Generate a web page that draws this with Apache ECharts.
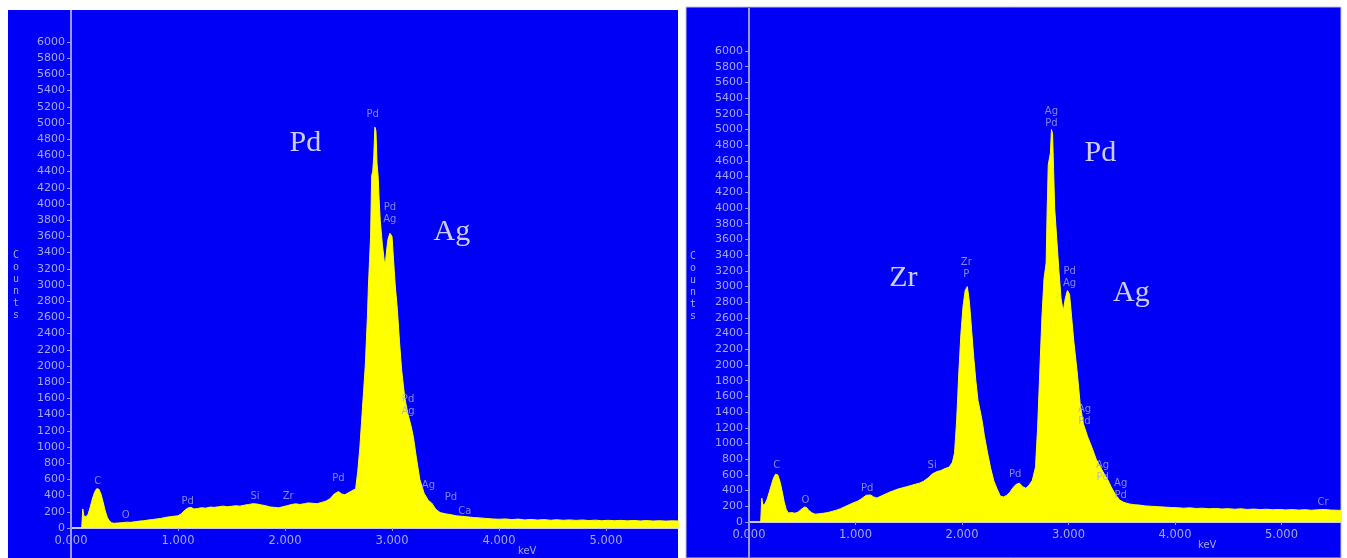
<!DOCTYPE html>
<html>
<head>
<meta charset="utf-8">
<script src="https://cdn.jsdelivr.net/npm/echarts@6/dist/echarts.min.js"></script>
<style>
  html, body { margin: 0; padding: 0; background: #ffffff; }
  #main { width: 1347px; height: 558px; }
</style>
</head>
<body>
<div id="main"></div>
<script>
// EDS spectra, [keV, counts]
var leftSpectrum = [
  [0.10, 0], [0.11, 235], [0.12, 150], [0.14, 140], [0.16, 170], [0.18, 260], [0.20, 360], [0.22, 440],
  [0.24, 485], [0.25, 490], [0.26, 480], [0.28, 420], [0.30, 320], [0.32, 210], [0.34, 130], [0.36, 85],
  [0.38, 65], [0.40, 58], [0.44, 62], [0.48, 66], [0.52, 72], [0.56, 70], [0.60, 78], [0.64, 85],
  [0.68, 90], [0.72, 98], [0.76, 104], [0.80, 112], [0.84, 118], [0.88, 130], [0.92, 138], [0.96, 145],
  [1.00, 150], [1.03, 175], [1.06, 215], [1.09, 245], [1.12, 255], [1.15, 235], [1.18, 240], [1.22, 250],
  [1.26, 245], [1.30, 258], [1.34, 255], [1.38, 262], [1.42, 270], [1.46, 262], [1.50, 268], [1.54, 275],
  [1.58, 270], [1.62, 282], [1.66, 290], [1.70, 300], [1.74, 295], [1.78, 285], [1.82, 275], [1.86, 260],
  [1.90, 255], [1.94, 250], [1.98, 262], [2.02, 275], [2.06, 290], [2.10, 298], [2.14, 290], [2.18, 300],
  [2.22, 310], [2.26, 305], [2.30, 300], [2.34, 315], [2.38, 330], [2.42, 360], [2.46, 420], [2.50, 450],
  [2.53, 420], [2.56, 410], [2.60, 440], [2.64, 470], [2.66, 480], [2.68, 700], [2.70, 1000], [2.72, 1400],
  [2.74, 1800], [2.75, 2000], [2.77, 2600], [2.78, 3000], [2.79, 3300], [2.80, 3600], [2.81, 4350], [2.82, 4400],
  [2.83, 4600], [2.84, 4950], [2.85, 4900], [2.86, 4500], [2.87, 4350], [2.88, 4050], [2.89, 3800], [2.91, 3500],
  [2.93, 3270], [2.94, 3300], [2.96, 3550], [2.98, 3640], [3.00, 3600], [3.02, 3200], [3.03, 3000], [3.05, 2700],
  [3.07, 2300], [3.09, 1950], [3.12, 1600], [3.15, 1400], [3.18, 1250], [3.20, 1120], [3.23, 850], [3.26, 600],
  [3.30, 430], [3.34, 340], [3.37, 310], [3.41, 230], [3.45, 190], [3.50, 175], [3.55, 165], [3.60, 150],
  [3.65, 145], [3.70, 138], [3.76, 130], [3.82, 125], [3.88, 118], [3.94, 112], [4.00, 108], [4.06, 112],
  [4.12, 104], [4.18, 110], [4.24, 100], [4.30, 106], [4.36, 98], [4.42, 104], [4.48, 96], [4.54, 102],
  [4.60, 95], [4.66, 100], [4.72, 94], [4.78, 99], [4.84, 92], [4.90, 97], [4.96, 90], [5.02, 95],
  [5.08, 90], [5.14, 94], [5.20, 88], [5.26, 93], [5.32, 87], [5.38, 92], [5.44, 86], [5.50, 90],
  [5.56, 85], [5.62, 89], [5.68, 86]
];

var rightSpectrum = [
  [0.11, 0], [0.12, 305], [0.13, 215], [0.15, 230], [0.17, 290], [0.19, 380], [0.21, 470], [0.23, 560],
  [0.25, 610], [0.26, 625], [0.27, 600], [0.29, 520], [0.31, 400], [0.33, 260], [0.35, 160], [0.37, 115],
  [0.40, 120], [0.43, 112], [0.46, 125], [0.49, 160], [0.52, 190], [0.54, 185], [0.56, 150], [0.59, 118],
  [0.62, 100], [0.66, 105], [0.70, 112], [0.74, 120], [0.78, 135], [0.82, 150], [0.86, 170], [0.90, 195],
  [0.94, 220], [0.98, 245], [1.02, 265], [1.06, 300], [1.10, 340], [1.14, 345], [1.17, 320], [1.20, 305],
  [1.24, 330], [1.28, 355], [1.32, 380], [1.36, 400], [1.40, 420], [1.44, 435], [1.48, 450], [1.52, 465],
  [1.56, 480], [1.60, 495], [1.64, 520], [1.68, 560], [1.72, 610], [1.76, 640], [1.80, 655], [1.84, 680],
  [1.88, 700], [1.91, 760], [1.93, 880], [1.95, 1300], [1.97, 1900], [1.99, 2400], [2.01, 2750], [2.03, 2950],
  [2.05, 3000], [2.07, 2800], [2.09, 2450], [2.11, 2100], [2.13, 1800], [2.15, 1550], [2.17, 1420], [2.19, 1280],
  [2.21, 1100], [2.24, 880], [2.27, 680], [2.30, 520], [2.33, 420], [2.36, 330], [2.39, 320], [2.42, 340],
  [2.45, 380], [2.48, 440], [2.51, 480], [2.54, 495], [2.57, 450], [2.60, 430], [2.63, 470], [2.66, 530],
  [2.69, 700], [2.71, 1200], [2.73, 1900], [2.75, 2600], [2.77, 3100], [2.79, 3300], [2.80, 4000], [2.81, 4550],
  [2.83, 4700], [2.84, 5000], [2.85, 4950], [2.86, 4500], [2.87, 4000], [2.89, 3600], [2.91, 3200], [2.93, 2850],
  [2.95, 2680], [2.97, 2850], [2.99, 2950], [3.01, 2900], [3.03, 2600], [3.05, 2300], [3.08, 1930], [3.11, 1500],
  [3.14, 1250], [3.18, 1085], [3.22, 950], [3.26, 800], [3.30, 700], [3.34, 600], [3.37, 535], [3.40, 450],
  [3.44, 350], [3.48, 280], [3.52, 250], [3.57, 230], [3.62, 220], [3.67, 215], [3.72, 205], [3.78, 200],
  [3.84, 195], [3.90, 190], [3.96, 185], [4.02, 182], [4.08, 176], [4.14, 180], [4.20, 172], [4.26, 176],
  [4.32, 168], [4.38, 173], [4.44, 166], [4.50, 170], [4.56, 163], [4.62, 168], [4.68, 160], [4.74, 165],
  [4.80, 158], [4.86, 163], [4.92, 156], [4.98, 160], [5.04, 154], [5.10, 158], [5.16, 152], [5.22, 157],
  [5.28, 150], [5.34, 155], [5.40, 160], [5.46, 152], [5.52, 150], [5.56, 148]
];

// peak markers written on the spectra: [text, keV, counts]
var leftMarks = [
  ['C', 0.25, 580], ['O', 0.51, 150], ['Pd', 1.09, 333], ['Si', 1.72, 395], ['Zr', 2.03, 395],
  ['Pd', 2.50, 617], ['Pd', 2.82, 5100], ['Pd\nAg', 2.98, 3880], ['Pd\nAg', 3.15, 1510],
  ['Ag', 3.34, 530], ['Pd', 3.55, 380], ['Ca', 3.68, 210]
];
var rightMarks = [
  ['C', 0.26, 725], ['O', 0.53, 280], ['Pd', 1.11, 430], ['Si', 1.72, 725], ['Zr\nP', 2.04, 3230],
  ['Pd', 2.50, 600], ['Ag\nPd', 2.84, 5150], ['Pd\nAg', 3.01, 3110], ['Ag\nPd', 3.15, 1360],
  ['Ag\nPd', 3.32, 640], ['Ag\nPd', 3.49, 410], ['Cr', 5.39, 250]
];

// big element names: [text, keV, counts]
var leftNames = [['Pd', 2.19, 4750], ['Ag', 3.56, 3650]];
var rightNames = [['Zr', 1.45, 3110], ['Pd', 3.30, 4700], ['Ag', 3.59, 2920]];

var yTicks = { min: 0, max: 6000, interval: 200 };
var xTicks = { min: 0, interval: 1 };

var blue = '#0000f6';
var yellow = '#ffff00';
var tickColor = '#a4a8f4';
var lineColor = '#9a9ad8';

function xAxisOf(idx, max) {
  return {
    type: 'value', gridIndex: idx, min: xTicks.min, max: max, interval: xTicks.interval,
    axisLine: { show: true, lineStyle: { color: '#c8c8f0', width: 2 } },
    axisTick: { show: true, length: 3, lineStyle: { color: lineColor } },
    axisLabel: { color: tickColor, fontSize: 11.5, fontFamily: 'DejaVu Sans', margin: 7,
      showMaxLabel: false, formatter: function (v) { return v.toFixed(3); } },
    splitLine: { show: false }
  };
}
function yAxisOf(idx, gap) {
  return {
    type: 'value', gridIndex: idx, min: yTicks.min, max: yTicks.max, interval: yTicks.interval,
    name: 'C\no\nu\nn\nt\ns', nameLocation: 'middle', nameGap: gap, nameRotate: 0,
    nameTextStyle: { color: tickColor, fontSize: 10, fontFamily: 'DejaVu Sans Mono', lineHeight: 12 },
    axisLine: { show: false },
    axisTick: { show: true, length: 4, lineStyle: { color: lineColor } },
    axisLabel: { color: tickColor, fontSize: 11, fontFamily: 'DejaVu Sans', margin: 6,
      formatter: function (v) { return String(v); } },
    splitLine: { show: false }
  };
}
function spectrum(idx, data) {
  return {
    type: 'line', xAxisIndex: idx, yAxisIndex: idx, data: data, symbol: 'none',
    lineStyle: { color: yellow, width: 1 }, areaStyle: { color: yellow, opacity: 1 },
    clip: true, silent: true, z: 2
  };
}
function marks(idx, list, size, color, family) {
  return {
    type: 'scatter', xAxisIndex: idx, yAxisIndex: idx, symbolSize: 1, silent: true, z: 5,
    itemStyle: { color: 'rgba(0,0,0,0)' },
    data: list.map(function (m) { return { name: m[0], value: [m[1], m[2]] }; }),
    label: { show: true, position: 'inside', formatter: function (p) { return p.name; },
      color: color, fontSize: size, fontFamily: family, lineHeight: size + 2 }
  };
}

var chart = echarts.init(document.getElementById('main'));
chart.setOption({
  animation: false,
  backgroundColor: '#ffffff',
  graphic: [
    { type: 'rect', z: -10, shape: { x: 8, y: 10, width: 670, height: 548 }, style: { fill: blue } },
    { type: 'rect', z: -10, shape: { x: 686, y: 7, width: 655, height: 551 }, style: { fill: blue, stroke: '#c0c0e0', lineWidth: 1 } },
    { type: 'line', z: 1, shape: { x1: 71, y1: 10, x2: 71, y2: 558 }, style: { stroke: lineColor, lineWidth: 2 } },
    { type: 'line', z: 1, shape: { x1: 749, y1: 8, x2: 749, y2: 558 }, style: { stroke: lineColor, lineWidth: 2 } },
    { type: 'text', left: 518, top: 546, style: { text: 'keV', fill: tickColor, fontSize: 10, fontFamily: 'DejaVu Sans' } },
    { type: 'text', left: 1198, top: 540, style: { text: 'keV', fill: tickColor, fontSize: 10, fontFamily: 'DejaVu Sans' } }
  ],
  grid: [
    { left: 71, top: 42, width: 607, height: 486 },
    { left: 749, top: 51, width: 591, height: 471 }
  ],
  xAxis: [xAxisOf(0, 607 / 107), xAxisOf(1, 591 / 106.5)],
  yAxis: [yAxisOf(0, 52), yAxisOf(1, 53)],
  series: [
    spectrum(0, leftSpectrum),
    spectrum(1, rightSpectrum),
    marks(0, leftMarks, 10, tickColor, 'DejaVu Sans'),
    marks(1, rightMarks, 10, tickColor, 'DejaVu Sans'),
    marks(0, leftNames, 30, '#ffffff', 'Liberation Serif'),
    marks(1, rightNames, 30, '#ffffff', 'Liberation Serif')
  ]
});
</script>
</body>
</html>
